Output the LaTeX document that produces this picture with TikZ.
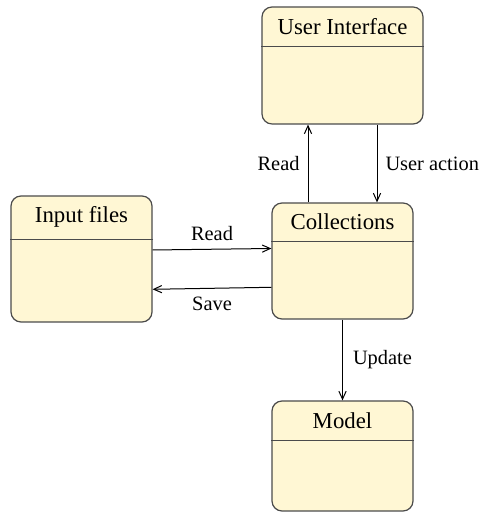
\documentclass[tikz,border=0pt]{standalone}
\usepackage{fontspec}
\setmainfont{Liberation Serif}
\usetikzlibrary{arrows.meta,calc}

\definecolor{boxfill}{RGB}{255,247,212}
\definecolor{boxline}{RGB}{75,75,75}

\tikzset{
  box/.style={draw=boxline, fill=boxfill, line width=0.6pt, rounded corners=5pt,
    inner sep=0pt, minimum width=70.5pt},
  title/.style={font=\fontsize{11.4}{13}\selectfont, inner sep=0pt},
  flow/.style={->, line width=0.5pt},
  lbl/.style={font=\fontsize{10.2}{12}\selectfont}
}

\begin{document}
\begin{tikzpicture}[x=0.5pt, y=0.5pt, >={Straight Barb[length=4pt,width=3.6pt]}]

    \useasboundingbox (0,0) rectangle (479,512);

    % The four boxes
    \node [box, minimum width=80.5pt, minimum height=58.5pt] (ui) at (342.5,446.5) {};
    \node [box, minimum height=58pt] (coll) at (342.5,251) {};
    \node [box, minimum height=63pt] (input) at (81.5,253) {};
    \node [box, minimum height=55pt] (model) at (342.5,56) {};

    % Header line and name of each box
    \foreach \b/\d/\name in {ui/40/User Interface, coll/39/Collections,
                             input/44/Input files, model/40/Model} {
      \draw [boxline, line width=0.6pt] ($(\b.north west)+(0,-\d)$) -- ($(\b.north east)+(0,-\d)$);
      \node [title] at ($(\b.north)+(0,-\d/2)$) {\name};
    }

    % Between the user interface and the collections
    \draw [flow] ($(coll.north)+(-34.5,0)$) -- node [lbl, left, inner sep=4pt] {Read} ($(ui.south)+(-34.5,0)$);
    \draw [flow] ($(ui.south)+(34.5,0)$) -- node [lbl, right, inner sep=4pt] {User action} ($(coll.north)+(34.5,0)$);

    % Reading and saving the input files
    \draw [flow] ($(input.east)+(0,9)$) -- node [lbl, above, inner sep=4pt] {Read} ($(coll.west)+(0,12.5)$);
    \draw [flow] ($(coll.west)+(0,-26.3)$) -- node [lbl, below, inner sep=4pt] {Save} ($(input.east)+(0,-30.3)$);

    % Collections update the model
    \draw [flow] (coll.south) -- node [lbl, right, inner sep=5pt] {Update} (model.north);
  \end{tikzpicture}
\end{document}
